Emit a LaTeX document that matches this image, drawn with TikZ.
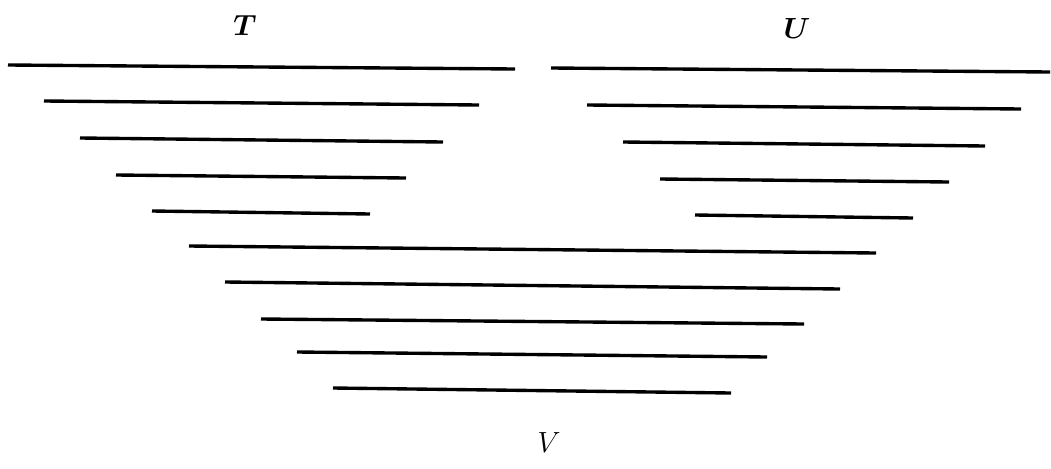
\documentclass[tikz,border=0pt]{standalone}
\tikzset{
  bar/.style={line width=2.4pt},
  setlabel/.style={font=\fontsize{21}{25}\selectfont\boldmath}
}
\begin{document}
\begin{tikzpicture}[x=0.025cm,y=-0.025cm]
  \useasboundingbox (0,0) rectangle (1051,468);
  % left stack
  \node[setlabel] (T) at (245,25) {$T$};
  \foreach \xa/\ya/\xb/\yb in {8/65/515/69, 44/101/479/105, 80/138/443/142, 116/175/406/178, 152/211/370/214}
    \draw[bar] (\xa,\ya)--(\xb,\yb);
  % right stack
  \node[setlabel] (U) at (797,28) {$U$};
  \foreach \xa/\ya/\xb/\yb in {551/68/1050/72, 587/105/1021/109, 623/142/985/146, 660/179/949/182, 695/215/913/218}
    \draw[bar] (\xa,\ya)--(\xb,\yb);
  % bottom stack
  \foreach \xa/\ya/\xb/\yb in {189/246/876/253, 225/282/840/289, 261/319/804/324, 297/352/767/357, 333/388/731/393}
    \draw[bar] (\xa,\ya)--(\xb,\yb);
  \node[setlabel,font=\fontsize{21}{25}\selectfont] (V) at (549,443) {$V$};
\end{tikzpicture}
\end{document}
